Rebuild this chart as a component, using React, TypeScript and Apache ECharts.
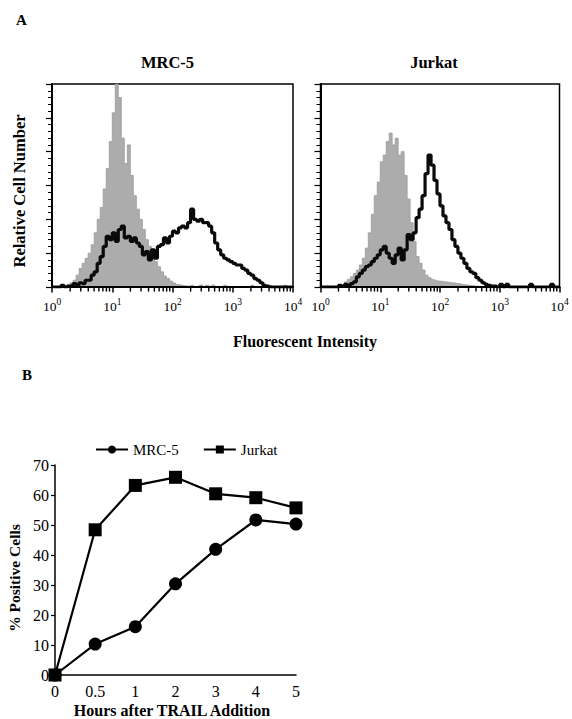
import React, { useEffect, useRef } from "react";
import * as echarts from "echarts";

// ---- Panel A: flow cytometry histograms (bins of 0.05 decade starting at 10^0) ----
const binLogStep = 0.05;

const mrcControl = [
  0, 0, 0, 0, 0.6, 1.2, 2.4, 4, 7, 11,
  14, 17, 20, 25, 32, 40, 47, 58, 70, 86,
  103, 120, 112, 88, 73, 84, 66, 54, 46, 40,
  34, 28, 24, 19, 15, 12, 9, 6.5, 5, 3.5,
  2.4, 1.5, 1.2, 0.8, 0.6, 0.3, 1, 0.3, 0.6, 1.2,
  0.3, 1, 0.3, 1.2, 0, 0, 0, 1, 0, 0,
  0, 0, 0, 0, 0, 0, 1, 0, 0, 0,
  0, 0, 1, 0, 0, 0, 0, 1, 0, 0,
];

const mrcTrail = [
  0, 0, 0, 1, 0, 0.5, 0.5, 2, 1, 2.5,
  2, 4, 4, 7, 9, 14, 18, 24, 30, 28,
  32, 27, 34, 36, 29, 30, 27, 29, 26, 24,
  19, 21, 16, 22, 17, 24, 25, 29, 26, 30,
  33, 32, 35, 36, 35, 38, 46, 40, 39, 40,
  38, 38, 36, 32, 26, 22, 19, 17, 16, 15,
  14, 13, 13, 11, 10, 8, 7, 5, 4, 2.5,
  1, 0.5, 0, 0, 0, 0, 0, 0, 0, 0,
];

const jurkatControl = [
  0, 0, 0.5, 0, 0, 0, 0.5, 1, 3, 4.5,
  6, 8, 10, 13, 17, 23, 32, 43, 54, 62,
  74, 78, 86, 91, 84, 88, 78, 80, 66, 52,
  38, 27, 18, 14, 10, 7, 5.5, 4.5, 4, 3.5,
  3.3, 3, 2.8, 2.5, 2.4, 2, 2, 1.5, 1.2, 1,
  0.8, 0.6, 0.4, 0, 0, 0, 0, 0, 0, 0,
  0, 0, 0, 0, 0, 0, 0, 0, 0, 0,
  0, 0, 0, 0, 0, 0, 0, 0, 0, 0,
];

const jurkatTrail = [
  0, 0, 0, 0, 0, 0, 1, 0.5, 1.5, 1,
  2, 3, 6, 8, 10, 12, 13, 15, 17, 19,
  22, 24, 20, 17, 14, 19, 23, 16, 22, 31,
  28, 32, 41, 46, 54, 67, 78, 72, 63, 55,
  48, 42, 38, 34, 28, 24, 20, 17, 14, 11,
  9, 8, 5.5, 4, 2.5, 1.5, 1, 0.5, 0.5, 0,
  1.5, 0, 1.5, 0, 0, 0, 0, 0, 0, 0,
  1.5, 0, 0, 0, 0, 0, 0, 1.5, 0, 0,
];

const decadeStarts = [1, 10, 100, 1000];
const minorMultipliers = [2, 3, 4, 5, 6, 7, 8, 9];

// ---- Panel B ----
const hours = ["0", "0.5", "1", "2", "3", "4", "5"];
const mrc5Positive = [0, 10.3, 16.1, 30.4, 41.9, 51.7, 50.3];
const jurkatPositive = [0, 48.4, 63.2, 65.9, 60.4, 59.1, 55.7];

const SERIF = '"Liberation Serif", "Times New Roman", serif';

function toSteps(vals: number[]) {
  const pts: number[][] = vals.map((v, i) => [Math.pow(10, i * binLogStep), v]);
  pts.push([Math.pow(10, vals.length * binLogStep), vals[vals.length - 1]]);
  return pts;
}

const minorTickValues = decadeStarts.flatMap((d) => minorMultipliers.map((k) => k * d));

export default function App() {
  const ref = useRef<HTMLDivElement>(null);

  useEffect(() => {
    document.body.style.margin = "0";
    const chart = echarts.init(ref.current!, null, { renderer: "svg" });

    const histX = (gridIndex: number) => ({
      type: "log",
      logBase: 10,
      min: 1,
      max: 10000,
      gridIndex,
      z: 10,
      axisLine: { show: true, lineStyle: { color: "#000", width: 2 } },
      axisTick: { show: true, length: 5.5, lineStyle: { color: "#000", width: 1.5 } },
      axisLabel: {
        show: true,
        margin: 10,
        color: "#000",
        formatter: (v: number) => `{n|10}{s|${Math.round(Math.log10(v))}}`,
        rich: {
          n: { fontSize: 13.5, fontFamily: SERIF, color: "#000", verticalAlign: "bottom", lineHeight: 16 },
          s: { fontSize: 9.5, fontFamily: SERIF, color: "#000", verticalAlign: "top", lineHeight: 6 },
        },
      },
      splitLine: { show: false },
    });

    const histY = (gridIndex: number) => ({
      type: "value",
      min: 0,
      max: 120,
      interval: 20,
      gridIndex,
      z: 10,
      axisLine: { show: true, lineStyle: { color: "#000", width: 2 } },
      axisTick: { show: true, length: 6, lineStyle: { color: "#000", width: 1.2 } },
      minorTick: { show: true, splitNumber: 5, length: 4, lineStyle: { color: "#000", width: 1 } },
      axisLabel: { show: false },
      splitLine: { show: false },
    });

    // minor log ticks (2..9 per decade) drawn as small vertical marks below the axis
    const minorTickSeries = (g: number) => ({
      type: "scatter",
      name: "minorTicks" + g,
      xAxisIndex: g,
      yAxisIndex: g,
      clip: false,
      silent: true,
      z: 12,
      symbol: "rect",
      symbolSize: [1.4, 4],
      symbolOffset: [0, 2.6],
      itemStyle: { color: "#000", opacity: 1 },
      data: minorTickValues.map((v) => [v, 0]),
    });

    const controlSeries = (g: number, vals: number[]) => ({
      type: "line",
      name: "control" + g,
      xAxisIndex: g,
      yAxisIndex: g,
      step: "end",
      symbol: "none",
      data: toSteps(vals),
      lineStyle: { color: "#9a9a9a", width: 0.8 },
      areaStyle: { color: "#acacac", opacity: 1 },
      z: 2,
    });

    const trailSeries = (g: number, vals: number[]) => ({
      type: "line",
      name: "trail" + g,
      xAxisIndex: g,
      yAxisIndex: g,
      step: "end",
      symbol: "none",
      data: toSteps(vals),
      lineStyle: { color: "#0a0a0a", width: 3.2 },
      z: 3,
    });

    const text = (t: string, x: number, y: number, size: number, bold: boolean, rotation = 0) => ({
      type: "text",
      x,
      y,
      rotation,
      style: {
        text: t,
        font: `${bold ? "bold " : ""}${size}px ${SERIF}`,
        fill: "#000",
        textAlign: "center",
        textVerticalAlign: "middle",
      },
    });

    const option: any = {
      animation: false,
      backgroundColor: "#fff",
      grid: [
        { left: 52, top: 84, width: 241, height: 203, show: true, borderColor: "#000", borderWidth: 1.5 },
        { left: 320.5, top: 84, width: 239, height: 203, show: true, borderColor: "#000", borderWidth: 1.5 },
        { left: 55, top: 465, width: 241, height: 210 },
      ],
      xAxis: [
        histX(0),
        histX(1),
        {
          type: "category",
          gridIndex: 2,
          data: hours,
          boundaryGap: false,
          axisLine: { show: true, lineStyle: { color: "#000", width: 1.5 } },
          axisTick: { show: false },
          axisLabel: { color: "#000", fontSize: 16, fontFamily: SERIF, margin: 8 },
          splitLine: { show: false },
        },
      ],
      yAxis: [
        histY(0),
        histY(1),
        {
          type: "value",
          gridIndex: 2,
          min: 0,
          max: 70,
          interval: 10,
          axisLine: { show: true, lineStyle: { color: "#000", width: 1.5 } },
          axisTick: { show: true, length: 4, lineStyle: { color: "#000", width: 1.2 } },
          axisLabel: { color: "#000", fontSize: 16, fontFamily: SERIF, margin: 6 },
          splitLine: { show: false },
        },
      ],
      legend: {
        data: ["MRC-5", "Jurkat"],
        left: 95,
        top: 442,
        padding: 0,
        itemWidth: 32,
        itemHeight: 10,
        itemGap: 24,
        textStyle: { fontFamily: SERIF, fontSize: 15, color: "#000" },
      },
      series: [
        controlSeries(0, mrcControl),
        trailSeries(0, mrcTrail),
        minorTickSeries(0),
        controlSeries(1, jurkatControl),
        trailSeries(1, jurkatTrail),
        minorTickSeries(1),
        {
          type: "line",
          name: "MRC-5",
          xAxisIndex: 2,
          yAxisIndex: 2,
          data: mrc5Positive,
          symbol: "circle",
          symbolSize: 13,
          itemStyle: { color: "#000" },
          lineStyle: { color: "#000", width: 2.2 },
          z: 3,
        },
        {
          type: "line",
          name: "Jurkat",
          xAxisIndex: 2,
          yAxisIndex: 2,
          data: jurkatPositive,
          symbol: "rect",
          symbolSize: 13,
          itemStyle: { color: "#000" },
          lineStyle: { color: "#000", width: 2.2 },
          z: 4,
        },
      ],
      graphic: [
        text("A", 21.5, 20, 15, true),
        text("MRC-5", 167.5, 62, 16.5, true),
        text("Jurkat", 434, 62, 16.5, true),
        text("Relative Cell Number", 19, 191, 16.5, true, Math.PI / 2),
        text("Fluorescent Intensity", 305, 341.5, 16, true),
        text("B", 27, 375, 15, true),
        text("% Positive Cells", 14, 578, 15.5, true, Math.PI / 2),
        text("Hours after TRAIL Addition", 172, 710, 16, true),
      ],
    };

    chart.setOption(option);
    return () => chart.dispose();
  }, []);

  return <div ref={ref} style={{ width: 572, height: 719 }} />;
}
